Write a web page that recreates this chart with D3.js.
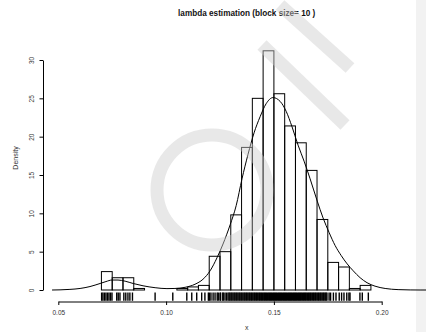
<!DOCTYPE html>
<html>
<head>
<meta charset="utf-8">
<script src="https://cdn.jsdelivr.net/npm/d3@7"></script>
<style>
  html, body { margin: 0; padding: 0; background: #fff; }
  svg { display: block; }
  text { font-family: "Liberation Sans", Arial, sans-serif; }
</style>
</head>
<body>
<svg id="chart" width="426" height="332"></svg>
<script>
// Histogram bins (left edge, width 0.005) and their densities
const binStart = [0.070, 0.075, 0.080, 0.085, 0.090, 0.095, 0.100, 0.105, 0.110, 0.115,
                  0.120, 0.125, 0.130, 0.135, 0.140, 0.145, 0.150, 0.155, 0.160, 0.165,
                  0.170, 0.175, 0.180, 0.185, 0.190];
const binDensity = [2.4, 1.6, 1.6, 0.2, 0.0, 0.0, 0.0, 0.2, 0.4, 0.6,
                    4.4, 5.0, 9.8, 18.6, 25.0, 31.2, 25.6, 21.4, 19.2, 15.6,
                    9.2, 3.6, 3.0, 0.2, 0.6];
const binWidth = 0.005;

// Kernel density estimate, sampled along x
const kdeX = [0.0471, 0.0508, 0.0554, 0.0601, 0.0647, 0.0694, 0.0721, 0.0749, 0.0777, 0.0810,
              0.0847, 0.0893, 0.0949, 0.1004, 0.1041, 0.1088, 0.1134, 0.1171, 0.1204, 0.1236,
              0.1264, 0.1297, 0.1325, 0.1352, 0.1380, 0.1408, 0.1436, 0.1464, 0.1496, 0.1529,
              0.1557, 0.1584, 0.1612, 0.1640, 0.1668, 0.1701, 0.1728, 0.1756, 0.1784, 0.1812,
              0.1840, 0.1868, 0.1900, 0.1932, 0.1969, 0.2016, 0.2076, 0.2132, 0.2178, 0.2210];
const kdeY = [0.00, 0.02, 0.08, 0.20, 0.45, 0.85, 1.10, 1.30, 1.30, 1.15,
              0.85, 0.55, 0.30, 0.18, 0.20, 0.35, 0.75, 1.40, 2.50, 4.20,
              6.00, 8.50, 11.0, 14.5, 17.7, 20.5, 22.6, 24.3, 25.1, 24.6,
              23.3, 21.3, 18.9, 16.8, 14.5, 11.6, 9.40, 7.50, 5.80, 4.50,
              3.40, 2.50, 1.60, 0.95, 0.50, 0.20, 0.05, 0.01, 0.00, 0.00];

// Individual estimates shown as a rug
const rugValues = [
  0.0701, 0.0707, 0.0714, 0.0721, 0.0728, 0.0735, 0.0742, 0.0749, 0.0771, 0.0778,
  0.0786, 0.0804, 0.0813, 0.0823, 0.0832, 0.0844, 0.0949, 0.1031, 0.1096, 0.1119,
  0.1142, 0.1165, 0.1180, 0.1196, 0.1201, 0.1208, 0.1218, 0.1227, 0.1237, 0.1242,
  0.1250, 0.1253, 0.1263, 0.1265, 0.1273, 0.1280,
  0.1287, 0.1292, 0.1296, 0.1301, 0.1305, 0.1310, 0.1315, 0.1319, 0.1324, 0.1328,
  0.1333, 0.1338, 0.1342, 0.1347, 0.1351, 0.1356, 0.1361, 0.1365, 0.1370, 0.1374,
  0.1379, 0.1384, 0.1388, 0.1393, 0.1397, 0.1402, 0.1407, 0.1411, 0.1416, 0.1420,
  0.1425, 0.1430, 0.1434, 0.1439, 0.1443, 0.1448, 0.1453, 0.1457, 0.1462, 0.1466,
  0.1471, 0.1476, 0.1480, 0.1485, 0.1489, 0.1494, 0.1499, 0.1503, 0.1508, 0.1512,
  0.1517, 0.1522, 0.1526, 0.1531, 0.1535, 0.1540, 0.1545, 0.1549, 0.1554, 0.1558,
  0.1563, 0.1568, 0.1572, 0.1577, 0.1581, 0.1586, 0.1591, 0.1595, 0.1600, 0.1604,
  0.1609, 0.1614, 0.1618, 0.1623, 0.1627, 0.1632, 0.1637, 0.1641, 0.1646, 0.1650,
  0.1655, 0.1660, 0.1664, 0.1669, 0.1673, 0.1678, 0.1683, 0.1687, 0.1692, 0.1696,
  0.1701, 0.1706, 0.1710, 0.1715, 0.1719, 0.1724, 0.1729, 0.1733, 0.1738, 0.1742,
  0.1746,
  0.1756, 0.1763, 0.1776, 0.1788, 0.1803, 0.1814, 0.1825, 0.1838, 0.1848, 0.1853,
  0.1899, 0.1910, 0.1938
];

const xTicks = [0.05, 0.10, 0.15, 0.20];
const yTicks = [0, 5, 10, 15, 20, 25, 30];

const svg = d3.select("#chart");

const x = d3.scaleLinear().domain([0.05, 0.20]).range([58.3, 381.7]);
const y = d3.scaleLinear().domain([0, 30]).range([290, 60]);

// light panel strip on the right edge
svg.append("rect").attr("x", 416).attr("y", 0).attr("width", 10).attr("height", 332)
  .attr("fill", "#f2f2f2");

// histogram bars
const bins = binStart.map((s, i) => ({ x0: s, x1: s + binWidth, d: binDensity[i] }));
svg.append("g").selectAll("rect").data(bins).join("rect")
  .attr("x", d => x(d.x0))
  .attr("y", d => y(d.d))
  .attr("width", d => x(d.x1) - x(d.x0))
  .attr("height", d => y(0) - y(d.d))
  .attr("fill", "none")
  .attr("stroke", "#000")
  .attr("stroke-width", 1);

// density curve
const kde = kdeX.map((v, i) => [v, kdeY[i]]);
svg.append("path")
  .datum(kde)
  .attr("fill", "none")
  .attr("stroke", "#000")
  .attr("stroke-width", 1)
  .attr("d", d3.line().x(d => x(d[0])).y(d => y(d[1])).curve(d3.curveMonotoneX));

// rug
svg.append("g").selectAll("line").data(rugValues).join("line")
  .attr("x1", d => x(d)).attr("x2", d => x(d))
  .attr("y1", 292.5).attr("y2", 300.8)
  .attr("stroke", "#000")
  .attr("stroke-width", 1.4);

// x axis
const xAxis = d3.axisBottom(x).tickValues(xTicks).tickFormat(d3.format(".2f"))
  .tickSizeInner(3.5).tickSizeOuter(0).tickPadding(5);
const gx = svg.append("g").attr("transform", "translate(0,301.5)").call(xAxis);
gx.select(".domain").attr("stroke", "#000");
gx.selectAll(".tick line").attr("stroke", "#000");
gx.selectAll(".tick text").attr("font-size", 6.5).attr("fill", "#333")
  .attr("font-family", "Liberation Sans, Arial, sans-serif");

// y axis
const yAxis = d3.axisLeft(y).tickValues(yTicks).tickSizeInner(3.5).tickSizeOuter(0).tickPadding(5);
const gy = svg.append("g").attr("transform", "translate(43,0)").call(yAxis);
gy.select(".domain").attr("stroke", "#000");
gy.selectAll(".tick line").attr("stroke", "#000");
gy.selectAll(".tick text")
  .attr("font-size", 6.5).attr("fill", "#333")
  .attr("font-family", "Liberation Sans, Arial, sans-serif")
  .attr("text-anchor", "middle")
  .attr("dy", null)
  .attr("x", null)
  .attr("transform", "translate(-8.7,0) rotate(-90)");

// titles
svg.append("text").attr("x", 246.7).attr("y", 15.5)
  .attr("text-anchor", "middle").attr("font-size", 8.2).attr("font-weight", "bold")
  .attr("fill", "#111")
  .text("lambda estimation (block size= 10 )");

svg.append("text").attr("x", 246.7).attr("y", 330)
  .attr("text-anchor", "middle").attr("font-size", 7).attr("fill", "#333")
  .text("x");

svg.append("text")
  .attr("transform", "translate(18.3,158) rotate(-90)")
  .attr("text-anchor", "middle").attr("font-size", 7).attr("fill", "#333")
  .text("Density");

// faint watermark overlay
const wm = svg.append("g").attr("fill", "none").attr("stroke", "rgb(205,205,205)")
  .attr("stroke-opacity", 0.45).attr("stroke-width", 13);
wm.append("circle").attr("cx", 212).attr("cy", 190).attr("r", 55);
wm.append("line").attr("x1", 262).attr("y1", 45).attr("x2", 345).attr("y2", 125);
wm.append("line").attr("x1", 280).attr("y1", 5).attr("x2", 350).attr("y2", 68);
</script>
</body>
</html>
